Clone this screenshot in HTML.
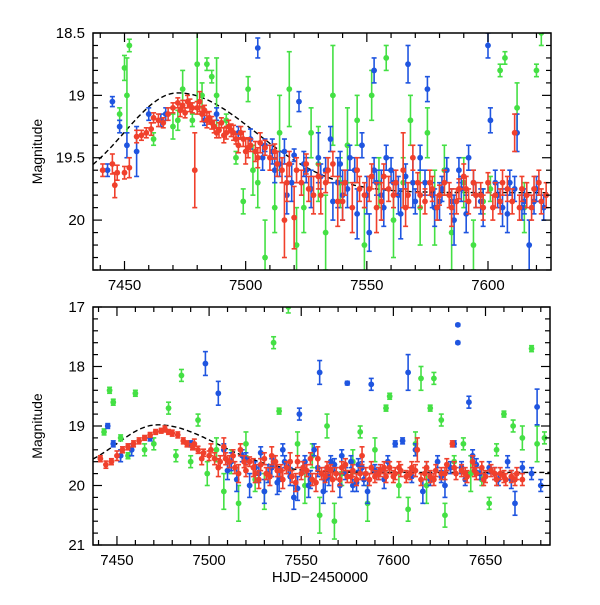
<!DOCTYPE html>
<html><head><meta charset="utf-8"><style>
body{margin:0;background:#fff}
svg text{font-family:"Liberation Sans",sans-serif;fill:#000}
</style></head><body>
<svg id="c" width="600" height="600" xmlns="http://www.w3.org/2000/svg"></svg>
<script>
// top panel data: [t, mag, err]
const topRed=[[7441,19.6,.05],[7445,19.55,.08],[7446,19.72,.1],[7447,19.62,.06],[7450,19.62,.05],[7452,19.58,.08],[7455,19.33,.05],[7457,19.32,.04],[7459,19.3,.04],[7461,19.27,.05],[7462,19.18,.04],[7464,19.2,.05],[7466,19.22,.04],[7470,19.1,.04],[7472,19.06,.04],[7474,19.08,.04],[7475,19.14,.04],[7476,19.05,.05],[7478,19.1,.04],[7479,19.6,.3],[7480,19.1,.05],[7481,19.05,.08],[7483,19.12,.04],[7485,19.18,.05],[7487,19.25,.05],[7488,19.3,.04],[7490,19.22,.04],[7492,19.3,.05],[7494,19.28,.05],[7496,19.35,.04],[7498,19.3,.05],[7500,19.45,.1],[7502,19.4,.05],[7505,19.5,.08],[7508,19.42,.06],[7512,19.45,.06],[7515,19.6,.1],[7516,20.0,.3],[7518,19.55,.1],[7520,19.98,.25],[7523,19.7,.1],[7525,19.55,.08],[7528,19.8,.15],[7530,19.65,.1],[7533,19.7,.08],[7536,19.55,.1],[7538,19.85,.2],[7541,19.7,.1],[7544,19.9,.2],[7546,19.6,.1],[7549,19.8,.1],[7551,19.75,.1],[7554,19.9,.2],[7557,19.65,.1],[7559,19.75,.1],[7562,19.7,.1],[7565,19.6,.3],[7567,19.8,.1],[7569,19.5,.1],[7571,19.7,.08],[7574,19.85,.1],[7577,19.75,.1],[7580,19.8,.08],[7582,19.7,.1],[7585,19.9,.15],[7588,19.75,.08],[7590,19.65,.1],[7592,19.85,.1],[7595,19.8,.1],[7598,19.9,.1],[7600,19.7,.08],[7603,19.8,.1],[7605,19.85,.1],[7608,19.75,.1],[7611,19.3,.15],[7613,19.9,.1],[7616,19.8,.1],[7619,19.75,.1],[7622,19.85,.1],
[7468,19.15,.05],[7473,19.12,.05],[7477,19.08,.05],[7482,19.15,.06],[7484,19.2,.06],[7486,19.22,.05],[7489,19.28,.06],[7491,19.32,.06],[7493,19.25,.05],[7495,19.3,.06],[7497,19.4,.06],[7499,19.35,.06],[7501,19.42,.08],[7504,19.45,.08],[7506,19.38,.08],[7510,19.5,.1],[7513,19.55,.1],[7517,19.7,.15],[7521,19.6,.1],[7526,19.75,.1],[7531,19.8,.15],[7534,19.6,.1],[7540,19.85,.15],[7547,19.75,.1],[7552,19.65,.1],[7556,19.85,.15],[7561,19.8,.1],[7566,19.9,.15],[7572,19.8,.1],[7576,19.7,.1],[7579,19.9,.1],[7584,19.8,.1],[7587,19.85,.1],[7591,19.75,.1],[7594,19.7,.1],[7597,19.8,.1],[7602,19.9,.1],[7606,19.7,.1],[7610,19.85,.1],[7614,19.75,.1],[7618,19.9,.1],[7621,19.7,.1],[7624,19.8,.1]];
const topBlue=[[7443,19.6,.05],[7445,19.05,.04],[7448,19.25,.05],[7451,19.4,.1],[7455,19.45,.2],[7460,19.15,.05],[7465,19.2,.05],[7467,19.15,.05],[7483,19.2,.04],[7488,19.15,.05],[7497,19.3,.05],[7505,18.62,.08],[7508,19.4,.05],[7511,19.45,.1],[7514,19.55,.1],[7517,19.8,.15],[7520,19.48,.05],[7522,19.05,.08],[7525,19.6,.1],[7530,19.5,.2],[7533,19.6,.1],[7535,19.35,.1],[7538,19.7,.2],[7540,19.8,.2],[7543,19.5,.1],[7546,19.95,.2],[7548,19.4,.1],[7551,20.1,.15],[7553,19.6,.1],[7556,19.8,.2],[7558,19.5,.1],[7561,19.7,.1],[7564,19.95,.2],[7567,18.75,.15],[7569,19.7,.2],[7572,19.5,.1],[7575,18.95,.1],[7577,19.8,.1],[7580,19.85,.15],[7583,19.6,.1],[7586,20.0,.2],[7589,19.75,.1],[7592,19.5,.1],[7595,19.8,.1],[7598,19.9,.15],[7601,19.2,.1],[7603,19.7,.1],[7606,19.9,.15],[7609,19.7,.1],[7612,19.3,.15],[7615,19.85,.1],[7617,20.2,.2],[7620,19.75,.1],[7623,19.9,.1],[7553,18.8,.1],[7600,18.6,.1],
[7502,19.35,.08],[7507,19.5,.1],[7512,19.6,.1],[7516,19.45,.1],[7519,19.7,.15],[7524,19.55,.1],[7527,19.75,.15],[7531,19.65,.1],[7536,19.85,.15],[7539,19.55,.1],[7542,19.75,.15],[7545,19.6,.1],[7550,19.8,.15],[7554,19.7,.1],[7557,19.9,.15],[7560,19.6,.1],[7563,19.8,.15],[7566,19.65,.1],[7570,19.85,.1],[7574,19.7,.1],[7578,19.9,.15],[7581,19.75,.1],[7585,19.85,.1],[7588,19.6,.1],[7591,19.95,.15],[7594,19.7,.1],[7597,19.85,.1],[7604,19.8,.1],[7608,19.95,.15],[7611,19.75,.1],[7614,19.9,.1],[7619,19.85,.1]];
const topGreen=[[7448,19.15,.05],[7450,18.78,.1],[7451,19.0,.3],[7452,18.6,.05],[7462,19.35,.05],[7470,19.25,.1],[7472,19.2,.08],[7474,18.95,.15],[7478,19.2,.05],[7480,18.75,.3],[7482,19.0,.1],[7484,18.75,.05],[7486,18.85,.05],[7488,19.0,.3],[7492,19.2,.05],[7496,19.5,.05],[7499,19.85,.1],[7501,18.95,.1],[7503,19.6,.2],[7505,19.7,.2],[7508,20.3,.3],[7512,19.9,.2],[7514,19.3,.3],[7518,18.95,.3],[7521,20.2,.3],[7524,19.9,.2],[7527,19.3,.2],[7530,19.55,.3],[7533,20.1,.3],[7536,19.0,.4],[7539,19.7,.2],[7542,19.4,.3],[7546,19.2,.2],[7549,20.2,.3],[7552,19.0,.2],[7555,19.7,.2],[7558,18.7,.1],[7561,20.0,.3],[7565,19.7,.2],[7568,19.2,.2],[7572,19.9,.3],[7575,19.3,.2],[7578,19.9,.3],[7582,19.6,.2],[7585,20.1,.3],[7590,19.7,.2],[7594,20.2,.2],[7598,19.85,.1],[7601,19.75,.1],[7605,18.8,.05],[7607,18.7,.05],[7612,19.1,.2],[7615,19.9,.2],[7620,18.8,.05],[7622,18.5,.1]];
// bottom panel data
const botRed=[[7441,19.55,.05],[7444,19.65,.06],[7447,19.6,.05],[7450,19.5,.08],[7453,19.4,.05],[7456,19.35,.05],[7459,19.3,.05],[7462,19.25,.05],[7465,19.2,.04],[7468,19.15,.04],[7471,19.1,.04],[7474,19.08,.04],[7476,19.05,.05],[7478,19.1,.04],[7480,19.12,.05],[7483,19.15,.05],[7486,19.25,.05],[7488,19.3,.05],[7491,19.35,.05],[7494,19.4,.06],[7497,19.45,.06],[7500,19.5,.08],[7503,19.55,.1],[7506,19.6,.1],[7508,19.35,.15],[7511,19.6,.1],[7514,19.7,.1],[7517,19.4,.1],[7520,19.75,.1],[7522,19.6,.08],[7525,19.8,.15],[7528,19.65,.1],[7531,19.8,.1],[7534,19.5,.15],[7537,19.75,.1],[7540,19.9,.15],[7542,19.7,.1],[7545,19.85,.1],[7548,19.6,.1],[7550,19.8,.1],[7553,19.75,.1],[7556,19.9,.1],[7559,19.55,.2],[7561,19.8,.1],[7564,19.7,.1],[7567,19.9,.2],[7569,19.8,.1],[7572,19.7,.1],[7575,19.85,.1],[7578,19.75,.1],[7580,19.9,.1],[7583,19.5,.15],[7585,19.8,.1],[7588,19.7,.1],[7590,19.85,.1],[7593,19.75,.1],[7596,19.85,.1],[7598,19.7,.1],[7601,19.8,.1],[7604,19.75,.1],[7607,19.85,.1],[7610,19.7,.1],[7613,19.4,.2],[7615,19.9,.1],[7618,19.7,.1],[7620,19.85,.1],[7623,19.75,.1],[7626,19.8,.1],[7629,19.65,.1],[7632,19.3,.05],[7634,19.8,.1],[7637,19.75,.1],[7640,19.85,.1],[7643,19.6,.1],[7645,19.8,.1],[7648,19.7,.1],[7650,19.85,.1],[7653,19.75,.1],[7656,19.9,.1],[7658,19.8,.1],[7661,19.9,.1],[7664,19.85,.1],[7667,19.8,.1],[7670,19.9,.1],
[7492,19.3,.08],[7496,19.55,.1],[7501,19.4,.1],[7505,19.7,.15],[7509,19.55,.1],[7513,19.5,.1],[7516,19.8,.15],[7519,19.6,.1],[7524,19.7,.15],[7527,19.9,.15],[7530,19.55,.1],[7533,19.85,.15],[7536,19.6,.1],[7539,19.75,.1],[7544,19.6,.15],[7547,19.95,.15],[7551,19.7,.1],[7555,19.55,.1],[7558,19.95,.15],[7563,19.85,.1],[7566,19.75,.1],[7571,19.9,.1],[7574,19.65,.1],[7577,19.85,.1],[7582,19.8,.1],[7587,19.9,.1],[7592,19.8,.1],[7595,19.7,.1],[7600,19.85,.1],[7603,19.7,.1],[7609,19.8,.1],[7612,19.75,.1],[7617,19.8,.1],[7622,19.9,.1],[7628,19.8,.1],[7633,19.7,.1],[7639,19.8,.1],[7644,19.75,.1],[7649,19.9,.1],[7655,19.8,.1],[7660,19.85,.1],[7666,19.9,.1]];
const botBlue=[[7445,19.0,.04],[7448,19.3,.05],[7452,19.5,.1],[7458,19.4,.1],[7468,19.2,.05],[7490,19.3,.05],[7498,17.95,.2],[7505,18.45,.2],[7508,19.4,.1],[7512,19.6,.15],[7518,19.5,.1],[7522,20.0,.2],[7525,19.7,.1],[7528,19.45,.1],[7532,19.8,.15],[7535,19.6,.1],[7538,19.9,.2],[7540,19.4,.1],[7543,19.7,.1],[7546,20.2,.2],[7549,18.8,.1],[7551,19.7,.1],[7554,20.0,.2],[7557,19.4,.1],[7560,18.1,.2],[7563,19.9,.2],[7566,19.6,.1],[7569,19.8,.1],[7572,19.5,.1],[7575,18.28,.03],[7578,20.0,.1],[7581,19.65,.1],[7584,19.9,.1],[7588,18.3,.1],[7592,19.8,.1],[7597,19.6,.1],[7601,19.3,.05],[7605,19.25,.05],[7608,18.1,.3],[7612,19.4,.1],[7616,20.1,.2],[7620,19.9,.1],[7624,19.6,.1],[7628,20.0,.2],[7631,19.7,.1],[7633,19.3,.05],[7635,17.3,.02],[7635,17.6,.02],[7639,19.9,.1],[7641,18.6,.1],[7643,19.5,.1],[7647,19.8,.1],[7652,19.7,.1],[7657,19.9,.1],[7662,19.6,.1],[7666,20.3,.2],[7670,19.7,.1],[7675,19.8,.1],[7678,18.68,.3],[7680,20.0,.1],
[7510,19.75,.15],[7515,19.9,.2],[7520,19.55,.1],[7527,19.8,.15],[7530,20.1,.2],[7534,19.7,.15],[7537,19.95,.2],[7541,19.6,.1],[7544,19.85,.15],[7548,20.05,.2],[7552,19.6,.1],[7555,19.9,.15],[7559,19.7,.15],[7562,20.1,.2],[7565,19.85,.15],[7568,19.65,.1],[7571,20.0,.2],[7574,19.8,.1],[7577,19.6,.1],[7580,19.95,.15],[7583,19.7,.1],[7586,20.1,.2],[7590,19.75,.1],[7595,19.9,.15],[7610,19.85,.1],[7618,19.7,.1],[7626,19.85,.1],[7637,19.7,.1],[7645,19.65,.1],[7655,19.8,.1],[7664,19.9,.15]];
const botGreen=[[7443,19.1,.05],[7446,18.4,.05],[7448,18.6,.05],[7452,19.2,.05],[7456,19.5,.05],[7460,18.45,.05],[7465,19.4,.1],[7470,19.3,.1],[7478,18.7,.1],[7482,19.5,.1],[7485,18.15,.1],[7490,19.6,.1],[7494,18.9,.1],[7499,19.8,.2],[7504,19.4,.2],[7508,20.1,.3],[7512,19.6,.2],[7516,20.3,.3],[7520,19.3,.2],[7525,19.9,.2],[7530,20.1,.3],[7535,17.6,.1],[7538,18.75,.05],[7543,17.0,.1],[7548,19.3,.2],[7552,20.0,.3],[7556,19.5,.2],[7560,20.5,.3],[7564,19.0,.2],[7568,20.6,.3],[7572,19.8,.2],[7578,19.6,.2],[7582,19.1,.1],[7586,20.3,.3],[7590,19.4,.2],[7596,18.7,.05],[7598,18.5,.05],[7603,20.0,.2],[7608,20.4,.2],[7612,19.3,.2],[7615,18.2,.2],[7618,20.0,.3],[7620,18.7,.05],[7622,18.2,.1],[7626,18.9,.1],[7628,20.5,.2],[7633,19.6,.1],[7638,19.3,.1],[7642,19.8,.3],[7648,19.9,.1],[7652,20.3,.1],[7656,19.4,.1],[7660,18.8,.05],[7665,19.0,.1],[7670,19.2,.2],[7675,17.7,.05],[7678,19.3,.3],[7682,19.2,.1]];
const xTicks=[7450,7500,7550,7600,7650];
const topYTicks=[18.5,19,19.5,20];
const botYTicks=[17,18,19,20,21];

const svg=document.getElementById('c');
const NS='http://www.w3.org/2000/svg';
function mk(tag,attrs,parent){const e=document.createElementNS(NS,tag);for(const k in attrs)e.setAttribute(k,attrs[k]);(parent||svg).appendChild(e);return e;}
const COL={red:'#f0402c',blue:'#1f55e0',green:'#44e044'};

function model(t){const s=t<7472?22:32;return 19.78-0.8*Math.exp(-0.5*Math.pow((t-7472)/s,2));}

function panel(name,P,xmin,xmax,ymin,ymax,yt,yminor,series){
  const g=mk('g',{});
  
  
  const X=t=>P.l+(t-xmin)/(xmax-xmin)*(P.r-P.l);
  const Y=m=>P.t+(m-ymin)/(ymax-ymin)*(P.b-P.t);
  const cp=mk('clipPath',{id:name+'-clip'},g);
  mk('rect',{x:P.l,y:P.t,width:P.r-P.l,height:P.b-P.t},cp);
  const dg=mk('g',{'clip-path':'url(#'+name+'-clip)'},g);
  let d='';for(let t=xmin;t<=xmax;t+=1){d+=(d?'L':'M')+X(t).toFixed(1)+','+Y(model(t)).toFixed(1);}
  const cur=mk('path',{d:d,fill:'none',stroke:'#000','stroke-width':1.4,'stroke-dasharray':'5,3'},dg);
  
  
  series.forEach(([arr,col,sn])=>{
    const sg=mk('g',{stroke:COL[col],fill:COL[col],'stroke-width':1.6},dg);
    
    
    arr.forEach(([t,m,e])=>{
      const x=X(t),y1=Y(m-e),y2=Y(m+e),y=Y(m);
      mk('line',{x1:x,x2:x,y1:y1,y2:y2},sg);
      mk('line',{x1:x-2.5,x2:x+2.5,y1:y1,y2:y1},sg);
      mk('line',{x1:x-2.5,x2:x+2.5,y1:y2,y2:y2},sg);
      const c=mk('circle',{cx:x,cy:y,r:2.9,stroke:'none'},sg);
      
      
    });
  });
  mk('rect',{x:P.l,y:P.t,width:P.r-P.l,height:P.b-P.t,fill:'none',stroke:'#000','stroke-width':1.5},g);
  for(let t=Math.ceil(xmin/10)*10;t<=xmax;t+=10){
    const maj=t%50===0,L=maj?9:5,x=X(t);
    mk('line',{x1:x,x2:x,y1:P.b,y2:P.b-L,stroke:'#000','stroke-width':1.2},g);
    mk('line',{x1:x,x2:x,y1:P.t,y2:P.t+L,stroke:'#000','stroke-width':1.2},g);
  }
  xTicks.forEach(t=>{if(t>xmin&&t<xmax){const tx=mk('text',{x:X(t),y:P.b+20,'text-anchor':'middle','font-size':15},g);tx.textContent=t;}});
  for(let m=ymin;m<=ymax+1e-6;m+=yminor){
    const mr=Math.round(m*100)/100;
    const maj=yt.some(v=>Math.abs(v-mr)<1e-6),L=maj?9:5,y=Y(mr);
    mk('line',{x1:P.l,x2:P.l+L,y1:y,y2:y,stroke:'#000','stroke-width':1.2},g);
    mk('line',{x1:P.r,x2:P.r-L,y1:y,y2:y,stroke:'#000','stroke-width':1.2},g);
  }
  yt.forEach(v=>{const tx=mk('text',{x:P.l-8,y:Y(v)+5,'text-anchor':'end','font-size':15},g);tx.textContent=v;});
  const yl=mk('text',{x:0,y:0,'text-anchor':'middle','font-size':14,transform:'translate(42,'+((P.t+P.b)/2)+') rotate(-90)'},g);
  yl.textContent='Magnitude';
  
  
}
panel('top-panel',{l:93,r:551,t:33,b:270},7437,7626,18.5,20.4,topYTicks,0.1,
  [[topGreen,'green','green-series'],[topBlue,'blue','blue-series'],[topRed,'red','red-series']]);
panel('bottom-panel',{l:93,r:550,t:307,b:545},7437,7685,17,21,botYTicks,0.2,
  [[botGreen,'green','green-series'],[botBlue,'blue','blue-series'],[botRed,'red','red-series']]);
const xl=mk('text',{x:320,y:582,'text-anchor':'middle','font-size':15});
xl.textContent='HJD\u22122450000';


</script>
</body></html>
